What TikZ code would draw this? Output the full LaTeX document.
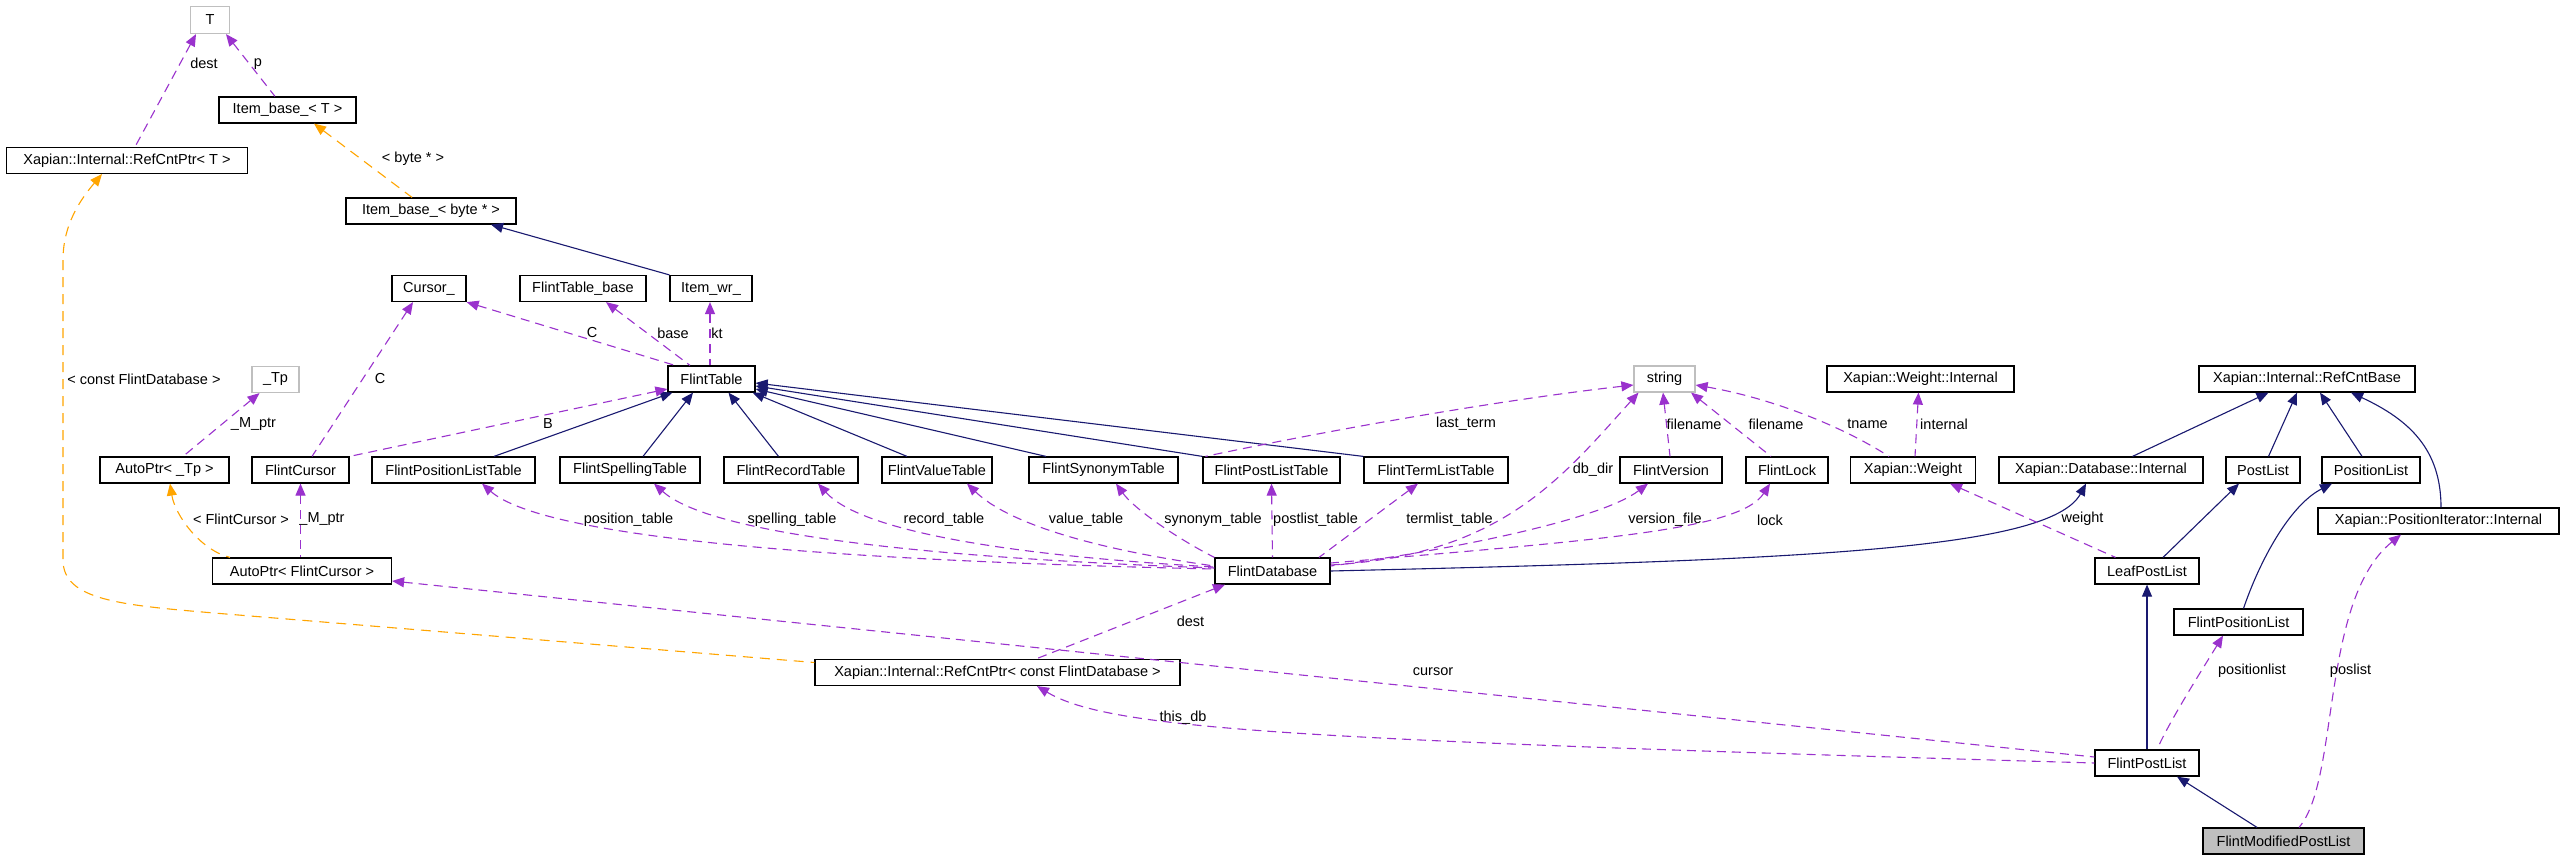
\documentclass[tikz,border=0pt]{standalone}
\usepackage{fontspec}
\setmainfont{Liberation Sans}
\definecolor{dxnavy}{RGB}{25,25,112}
\definecolor{dxpurple}{RGB}{154,50,205}
\definecolor{dxorange}{RGB}{255,165,0}
\definecolor{dxgray}{RGB}{191,191,191}
\usetikzlibrary{arrows.meta}

\begin{document}
\begin{tikzpicture}[x=1pt,y=-1pt,
  cbox/.style={draw,line width=1.2pt,font=\fontsize{14.5}{17}\selectfont,
    minimum height=26pt,inner sep=0pt},
  gbox/.style={cbox,draw=dxgray},
  hbox/.style={cbox,fill=dxgray},
  lbl/.style={font=\fontsize{14.5}{17}\selectfont,inner sep=0pt},
  inh/.style={draw=dxnavy,line width=1.1pt,{Triangle[length=12pt,width=10pt]}-},
  mem/.style={draw=dxpurple,line width=1.1pt,dash pattern=on 9pt off 6pt,
    {Triangle[length=12pt,width=10pt]}-},
  tpl/.style={draw=dxorange,line width=1.1pt,dash pattern=on 10pt off 7pt,
    {Triangle[length=12pt,width=10pt]}-}
]
  \fill[white] (0,0) rectangle (2563,859);
  \useasboundingbox (0,0) rectangle (2563,859);

  % template bases
  \node[gbox,minimum width=39pt,minimum height=27pt] (T) at (210,20) {T};
  \node[cbox,minimum width=137pt] (ibT) at (287.5,110) {Item\_base\_< T >};
  \node[cbox,minimum width=241pt] (rcpT) at (127,160.5) {Xapian::Internal::RefCntPtr< T >};
  \node[cbox,minimum width=170pt] (ibB) at (431,211) {Item\_base\_< byte * >};

  % row above FlintTable
  \node[cbox,minimum width=74pt] (cur) at (429,288.5) {Cursor\_};
  \node[cbox,minimum width=126pt] (ftb) at (583,288.5) {FlintTable\_base};
  \node[cbox,minimum width=82pt] (iwr) at (711,288.5) {Item\_wr\_};

  \node[gbox,minimum width=47pt] (tp) at (275.5,379.5) {\_Tp};
  \node[cbox,minimum width=87pt] (ft) at (711.5,379) {FlintTable};
  \node[gbox,minimum width=61pt] (str) at (1664.5,379) {string};
  \node[cbox,minimum width=187pt] (wint) at (1920.5,379) {Xapian::Weight::Internal};
  \node[cbox,minimum width=216pt] (rcb) at (2307,379) {Xapian::Internal::RefCntBase};

  % table row
  \node[cbox,minimum width=129pt] (apTp) at (164.5,470) {AutoPtr< \_Tp >};
  \node[cbox,minimum width=97pt] (fc) at (300.5,470) {FlintCursor};
  \node[cbox,minimum width=163pt] (fplt) at (453.5,470) {FlintPositionListTable};
  \node[cbox,minimum width=140pt] (fspt) at (630,470) {FlintSpellingTable};
  \node[cbox,minimum width=134pt] (frt) at (791,470) {FlintRecordTable};
  \node[cbox,minimum width=110pt] (fvt) at (937,470) {FlintValueTable};
  \node[cbox,minimum width=149pt] (fsyt) at (1103.5,470) {FlintSynonymTable};
  \node[cbox,minimum width=137pt] (fpost) at (1271.5,470) {FlintPostListTable};
  \node[cbox,minimum width=144pt] (ftlt) at (1436,470) {FlintTermListTable};
  \node[cbox,minimum width=102pt] (fver) at (1671,470) {FlintVersion};
  \node[cbox,minimum width=82pt] (flock) at (1787,470) {FlintLock};
  \node[cbox,minimum width=125pt] (xw) at (1913,470) {Xapian::Weight};
  \node[cbox,minimum width=204pt] (xdbi) at (2101,470) {Xapian::Database::Internal};
  \node[cbox,minimum width=74pt] (pl) at (2263,470) {PostList};
  \node[cbox,minimum width=98pt] (posl) at (2371,470) {PositionList};
  \node[cbox,minimum width=241pt] (xpii) at (2438.5,521) {Xapian::PositionIterator::Internal};

  % lower part
  \node[cbox,minimum width=179pt] (apFC) at (302,571) {AutoPtr< FlintCursor >};
  \node[cbox,minimum width=115pt] (fdb) at (1272.5,571) {FlintDatabase};
  \node[cbox,minimum width=104pt] (lpl) at (2147,571) {LeafPostList};
  \node[cbox,minimum width=129pt] (fpl) at (2238.5,622) {FlintPositionList};
  \node[cbox,minimum width=365pt] (rcpFD) at (997.5,672.5) {Xapian::Internal::RefCntPtr< const FlintDatabase >};
  \node[cbox,minimum width=104pt] (fplist) at (2147,763) {FlintPostList};
  \node[hbox,minimum width=161pt] (fmpl) at (2283.5,841) {FlintModifiedPostList};

  % inheritance
  \draw[inh] ([xshift=60pt]ibB.south) -- (iwr.north west);
  \draw[inh] ([xshift=5pt]ft.south west) -- ([xshift=40.5pt]fplt.north);
  \draw[inh] ([xshift=-18.5pt]ft.south) -- ([xshift=13pt]fspt.north);
  \draw[inh] ([xshift=17pt]ft.south) -- ([xshift=-12.5pt]frt.north);
  \draw[inh] ([xshift=-3pt]ft.south east) -- ([xshift=-30pt]fvt.north);
  \draw[inh] ([yshift=-10pt]ft.east) -- ([xshift=-57.5pt]fsyt.north);
  \draw[inh] ([yshift=-7pt]ft.east) -- (fpost.north west);
  \draw[inh] ([yshift=-4pt]ft.east) -- (ftlt.north west);
  \draw[inh] ([xshift=-15pt]xdbi.south) .. controls (2050,550) and (1800,560) .. (fdb.east);
  \draw[inh] ([xshift=-38.5pt]rcb.south) -- ([xshift=31.5pt]xdbi.north);
  \draw[inh] ([xshift=-10pt]rcb.south) -- ([xshift=5.5pt]pl.north);
  \draw[inh] ([xshift=13pt]rcb.south) -- ([xshift=-9pt]posl.north);
  \draw[inh] ([xshift=44pt]rcb.south) .. controls (2410,420) and (2441,450) .. ([xshift=2.5pt]xpii.north);
  \draw[inh] ([xshift=-24pt]pl.south) -- ([xshift=16pt]lpl.north);
  \draw[inh] ([xshift=-39pt]posl.south) .. controls (2290,505) and (2260,560) .. ([xshift=5pt]fpl.north);
  \draw[inh] (lpl.south) -- (fplist.north);
  \draw[inh] ([xshift=30pt]fplist.south) -- ([xshift=-26.5pt]fmpl.north);

  % members
  \draw[mem] ([xshift=-14pt]T.south) -- ([xshift=8pt]rcpT.north);
  \draw[mem] ([xshift=16pt]T.south) -- ([xshift=-12.5pt]ibT.north);
  \draw[mem] ([xshift=-16pt]cur.south) -- ([xshift=11.5pt]fc.north);
  \draw[mem] (cur.south east) -- ([xshift=-36.5pt]ft.north);
  \draw[mem] ([xshift=23pt]ftb.south) -- ([xshift=-21.5pt]ft.north);
  \draw[mem] ([xshift=-1pt]iwr.south) -- ([xshift=-1.5pt]ft.north);
  \draw[mem] ([yshift=-10pt]ft.west) -- (fc.north east);
  \draw[mem] ([xshift=-16pt]tp.south) -- ([xshift=18.5pt]apTp.north);
  \draw[mem] (fc.south) -- ([xshift=-1.5pt]apFC.north);
  \draw[mem] ([yshift=-6pt]str.west) .. controls (1500,400) and (1330,430) .. ([xshift=3pt]fpost.north west);
  \draw[mem] ([xshift=-26pt]str.south) .. controls (1560,480) and (1500,555) .. ([yshift=6pt]fdb.east);
  \draw[mem] ([xshift=-1.5pt]str.south) -- ([xshift=-1pt]fver.north);
  \draw[mem] ([xshift=26.5pt]str.south) -- ([xshift=-16pt]flock.north);
  \draw[mem] ([yshift=-6pt]str.east) .. controls (1770,398) and (1840,425) .. ([xshift=-24pt]xw.north);
  \draw[mem] ([xshift=-2pt]wint.south) -- ([xshift=2pt]xw.north);
  \draw[mem] ([xshift=37pt]xw.south) -- ([xshift=-31.5pt]lpl.north);
  \draw[mem] ([xshift=28.5pt]fplt.south) .. controls (540,535) and (800,560) .. ([yshift=2pt]fdb.west);
  \draw[mem] ([xshift=24pt]fspt.south) .. controls (700,525) and (850,555) .. ([yshift=3pt]fdb.west);
  \draw[mem] ([xshift=27pt]frt.south) .. controls (860,530) and (1000,555) .. ([yshift=4pt]fdb.west);
  \draw[mem] ([xshift=30pt]fvt.south) .. controls (1010,525) and (1100,550) .. ([yshift=5pt]fdb.west);
  \draw[mem] ([xshift=12.5pt]fsyt.south) .. controls (1135,510) and (1180,540) .. (fdb.north west);
  \draw[mem] (fpost.south) -- (fdb.north);
  \draw[mem] ([xshift=-18pt]ftlt.south) -- ([xshift=46.5pt]fdb.north);
  \draw[mem] ([xshift=-23pt]fver.south) .. controls (1600,520) and (1450,550) .. ([yshift=5pt]fdb.east);
  \draw[mem] ([xshift=-17pt]flock.south) .. controls (1740,530) and (1600,540) .. ([yshift=8pt]fdb.east);
  \draw[mem] ([xshift=-47.5pt]fdb.south) -- ([xshift=38.5pt]rcpFD.north);
  \draw[mem] ([yshift=-10pt]apFC.east) -- ([yshift=6pt]fplist.west);
  \draw[mem] ([xshift=39.5pt]rcpFD.south) .. controls (1110,730) and (1300,740) .. (fplist.west);
  \draw[mem] ([xshift=-15.5pt]fpl.south) .. controls (2205,665) and (2170,720) .. ([xshift=10pt]fplist.north);
  \draw[mem] ([xshift=-37.5pt]xpii.south) .. controls (2320,600) and (2340,780) .. ([xshift=15.5pt]fmpl.north);

  % template instances
  \draw[tpl] ([xshift=26.5pt]ibT.south) -- ([xshift=-19pt]ibB.north);
  \draw[tpl] ([xshift=5.5pt]apTp.south) .. controls (175,515) and (200,550) .. ([xshift=-72pt]apFC.north);
  \draw[tpl] ([xshift=-25pt]rcpT.south) .. controls (80,200) and (63,225) .. (63,260) -- (63,560)
    .. controls (63,600) and (120,605) .. (214,613) -- ([yshift=10pt]rcpFD.west);

  % edge labels
  \node[lbl] (lDestT) at (204,63) {dest};
  \node[lbl] (lP) at (258,64) {p};
  \node[lbl] (lByte) at (413,159) {< byte * >};
  \node[lbl] (lConstFD) at (144,379) {< const FlintDatabase >};
  \node[lbl] (lMptrA) at (253.5,424) {\_M\_ptr};
  \node[lbl] (lCcur) at (380,379) {C};
  \node[lbl] (lB) at (548,424) {B};
  \node[lbl] (lCft) at (592,333) {C};
  \node[lbl] (lBase) at (673,333) {base};
  \node[lbl] (lKt) at (717,333) {kt};
  \node[lbl] (lFC) at (241,519) {< FlintCursor >};
  \node[lbl] (lMptrB) at (322,519) {\_M\_ptr};
  \node[lbl] (lPosT) at (628.5,520) {position\_table};
  \node[lbl] (lSpellT) at (792,520) {spelling\_table};
  \node[lbl] (lRecT) at (944,520) {record\_table};
  \node[lbl] (lValT) at (1086,520) {value\_table};
  \node[lbl] (lSynT) at (1213,520) {synonym\_table};
  \node[lbl] (lPostT) at (1315.5,520) {postlist\_table};
  \node[lbl] (lTermT) at (1449.5,520) {termlist\_table};
  \node[lbl] (lVerF) at (1665,520) {version\_file};
  \node[lbl] (lLock) at (1770,520) {lock};
  \node[lbl] (lDbDir) at (1593,470) {db\_dir};
  \node[lbl] (lLastT) at (1466,424) {last\_term};
  \node[lbl] (lFileA) at (1694,424) {filename};
  \node[lbl] (lFileB) at (1776,424) {filename};
  \node[lbl] (lTname) at (1867.5,424) {tname};
  \node[lbl] (lInt) at (1944,424) {internal};
  \node[lbl] (lWeight) at (2082.5,519) {weight};
  \node[lbl] (lDestFD) at (1190.5,621) {dest};
  \node[lbl] (lCursor) at (1433,672) {cursor};
  \node[lbl] (lThisDb) at (1183,718) {this\_db};
  \node[lbl] (lPosList) at (2252,671) {positionlist};
  \node[lbl] (lPoslist) at (2350.5,671) {poslist};
\end{tikzpicture}
\end{document}
